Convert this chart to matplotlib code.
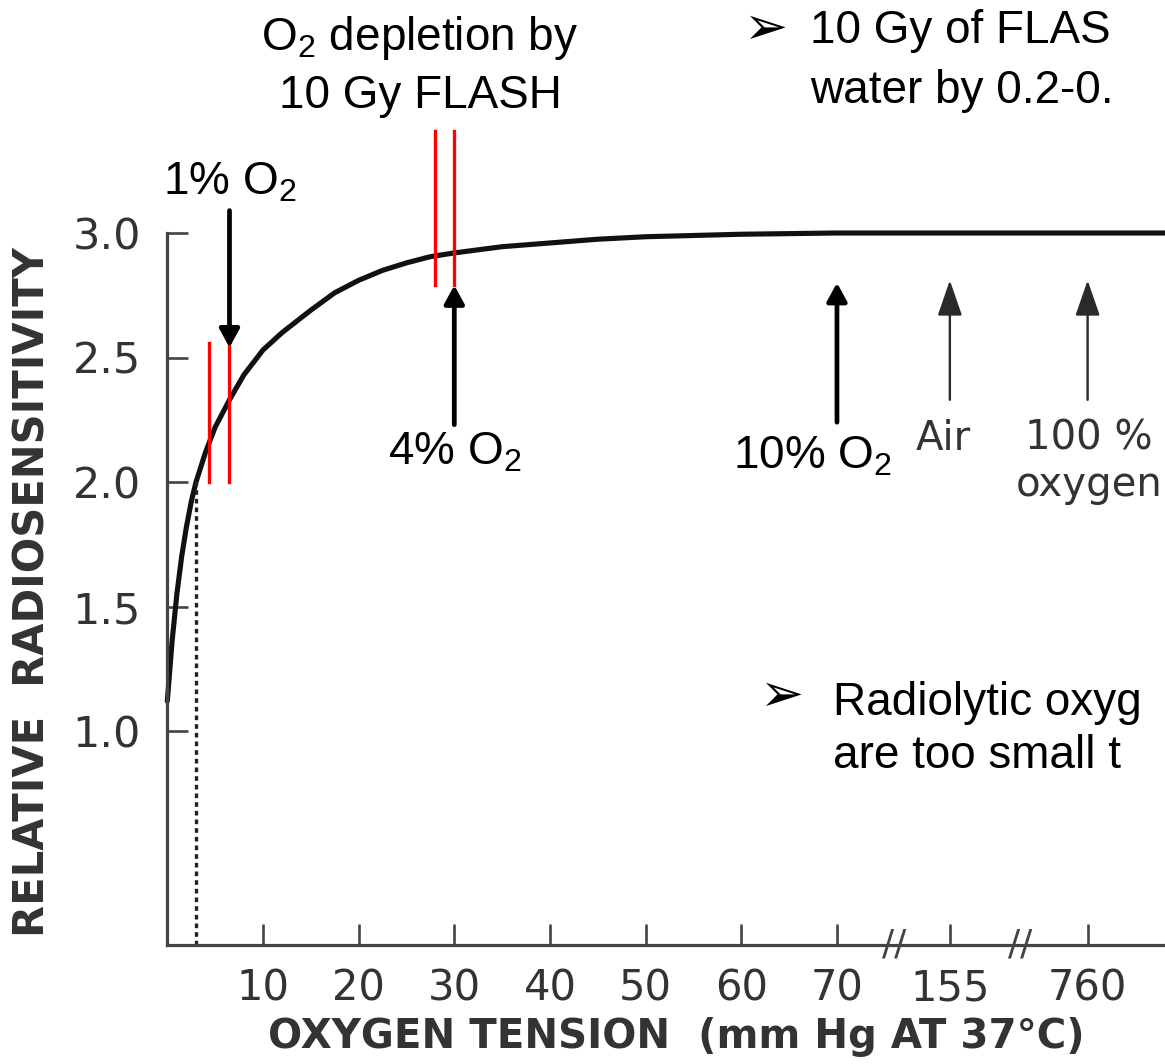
import numpy as np
import matplotlib
matplotlib.use("Agg")
import matplotlib.pyplot as plt

# curve: oxygen tension (mm Hg) vs relative radiosensitivity
pO2 = [0, 0.5, 1, 1.5, 2, 2.5, 3, 4, 5, 6.5, 8, 10, 12, 15, 17.5, 20, 22.5, 25,
       27.5, 30, 35, 40, 45, 50, 60, 70, 155, 760, 2000]
radiosens = [1.12, 1.36, 1.55, 1.70, 1.82, 1.92, 2.0, 2.12, 2.22, 2.33, 2.43,
             2.53, 2.60, 2.69, 2.76, 2.81, 2.85, 2.88, 2.905, 2.92, 2.945,
             2.96, 2.975, 2.985, 2.995, 3.0, 3.0, 3.0, 3.0]

x_ticks = [10, 20, 30, 40, 50, 60, 70, 155, 760]
x_tick_labels = ["10", "20", "30", "40", "50", "60", "70", "155", "760"]
y_ticks = [1.0, 1.5, 2.0, 2.5, 3.0]
axis_breaks = [113, 462]

# broken x axis: real value -> drawing position
scale_real = [-100, 0, 70, 155, 760, 2000]
scale_pos = [-100, 0, 70, 81.8, 96.2, 125.7]

# red FLASH depletion markers: (x_left, x_right, y_bottom, y_top)
flash_pairs = [(4.4, 6.5, 2.0, 2.56), (28, 30, 2.79, 3.41)]
# black slide arrows: (x, y_tail, y_tip)
o2_arrows = [(6.5, 3.09, 2.54), (30, 2.23, 2.79), (70, 2.24, 2.80)]
# original figure arrows (air, 100% oxygen)
gas_arrows = [(155, 2.33, 2.81), (760, 2.33, 2.81)]
half_max_p = 3

W, H = 1165, 1064
old_color = "#333333"
slide_font = ["Liberation Sans", "DejaVu Sans"]

plt.rcParams["font.family"] = ["DejaVu Sans"]
plt.rcParams["mathtext.fontset"] = "custom"
plt.rcParams["mathtext.rm"] = "Liberation Sans"

fig = plt.figure(figsize=(W / 100, H / 100), dpi=100)
ax = fig.add_axes([167.3 / W, 1 - 945 / H, 1 - 167.3 / W, 945 / H])

fwd = lambda v: np.interp(v, scale_real, scale_pos)
inv = lambda v: np.interp(v, scale_pos, scale_real)
ax.set_xscale("function", functions=(fwd, inv))
ymin = 3.0 - 712 / 249
ax.set_xlim(0, 1100)
ax.set_ylim(ymin, 3.0 + 233 / 249)

ax.plot(pO2, radiosens, color="#111111", lw=3.7, solid_capstyle="round", clip_on=False)
ax.plot([half_max_p, half_max_p], [ymin, 2.0], color="#222222", lw=2.4,
        linestyle=(0, (1.4, 1.2)))

for x0, x1, yb, yt in flash_pairs:
    ax.plot([x0, x0], [yb, yt], color="red", lw=2.4)
    ax.plot([x1, x1], [yb, yt], color="red", lw=2.4)

for x, y0, y1 in o2_arrows:
    ax.annotate("", xy=(x, y1), xytext=(x, y0),
                arrowprops=dict(arrowstyle="-|>,head_length=0.55,head_width=0.3",
                                mutation_scale=20, lw=3.4, color="black",
                                shrinkA=0, shrinkB=0))

for x, y0, y1 in gas_arrows:
    ax.annotate("", xy=(x, y1), xytext=(x, y0),
                arrowprops=dict(arrowstyle="-|>,head_length=1.1,head_width=0.38",
                                mutation_scale=20, lw=1.7, color="#2a2a2a",
                                shrinkA=0, shrinkB=0))

# axes styling
for side in ["top", "right"]:
    ax.spines[side].set_visible(False)
ax.spines["left"].set_bounds(ymin, 3.0)
for side in ["left", "bottom"]:
    ax.spines[side].set_linewidth(2.3)
    ax.spines[side].set_color("#444444")
ax.set_xticks(x_ticks)
ax.set_xticklabels(x_tick_labels)
ax.set_yticks(y_ticks)
ax.set_yticklabels([f"{v:.1f}" for v in y_ticks])
ax.tick_params(axis="x", direction="in", length=15, width=1.9, color="#444444",
               labelsize=30, labelcolor=old_color, pad=16)
ax.tick_params(axis="y", direction="in", length=15, width=1.9, color="#444444",
               labelsize=31, labelcolor=old_color, pad=19)
ax.minorticks_off()
ax.patch.set_alpha(0)

for b in axis_breaks:
    ax.text(b, ymin, "//", fontsize=26, color="#444444", ha="center", va="center")


def px(x, y):
    return x / W, 1 - y / H


fig.text(*px(33, 592), "RELATIVE  RADIOSENSITIVITY", rotation=90, fontsize=30,
         fontweight="bold", color=old_color, ha="center", va="center")
fig.text(*px(676, 1048), "OXYGEN TENSION  (mm Hg AT 37°C)", fontsize=29,
         fontweight="bold", color=old_color, ha="center", va="baseline")

# labels from the original figure
fig.text(*px(943, 450), "Air", fontsize=29, color=old_color, ha="center", va="baseline")
fig.text(*px(1089, 450), "100 %", fontsize=29, color=old_color, ha="center", va="baseline")
fig.text(*px(1089, 496), "oxygen", fontsize=29, color=old_color, ha="center", va="baseline")

# slide annotations
fig.text(*px(420, 50), "O$_2$ depletion by", fontsize=33, family=slide_font,
         ha="center", va="baseline")
fig.text(*px(420, 108), "10 Gy FLASH", fontsize=33, family=slide_font,
         ha="center", va="baseline")
fig.text(*px(230, 195), "1% O$_2$", fontsize=33, family=slide_font,
         ha="center", va="baseline")
fig.text(*px(455, 465), "4% O$_2$", fontsize=33, family=slide_font,
         ha="center", va="baseline")
fig.text(*px(733, 468), "10% O$_2$", fontsize=33, family=slide_font,
         ha="left", va="baseline")

fig.text(*px(765, 30), "➢", fontsize=38, family=slide_font, ha="center", va="center")
fig.text(*px(810, 43), "10 Gy of FLAS", fontsize=33, family=slide_font,
         ha="left", va="baseline")
fig.text(*px(810, 103), "water by 0.2-0.", fontsize=33, family=slide_font,
         ha="left", va="baseline")
fig.text(*px(781, 697), "➢", fontsize=38, family=slide_font, ha="center", va="center")
fig.text(*px(833, 715), "Radiolytic oxyg", fontsize=33, family=slide_font,
         ha="left", va="baseline")
fig.text(*px(833, 768), "are too small t", fontsize=33, family=slide_font,
         ha="left", va="baseline")

fig.savefig("out.png", dpi=100)
